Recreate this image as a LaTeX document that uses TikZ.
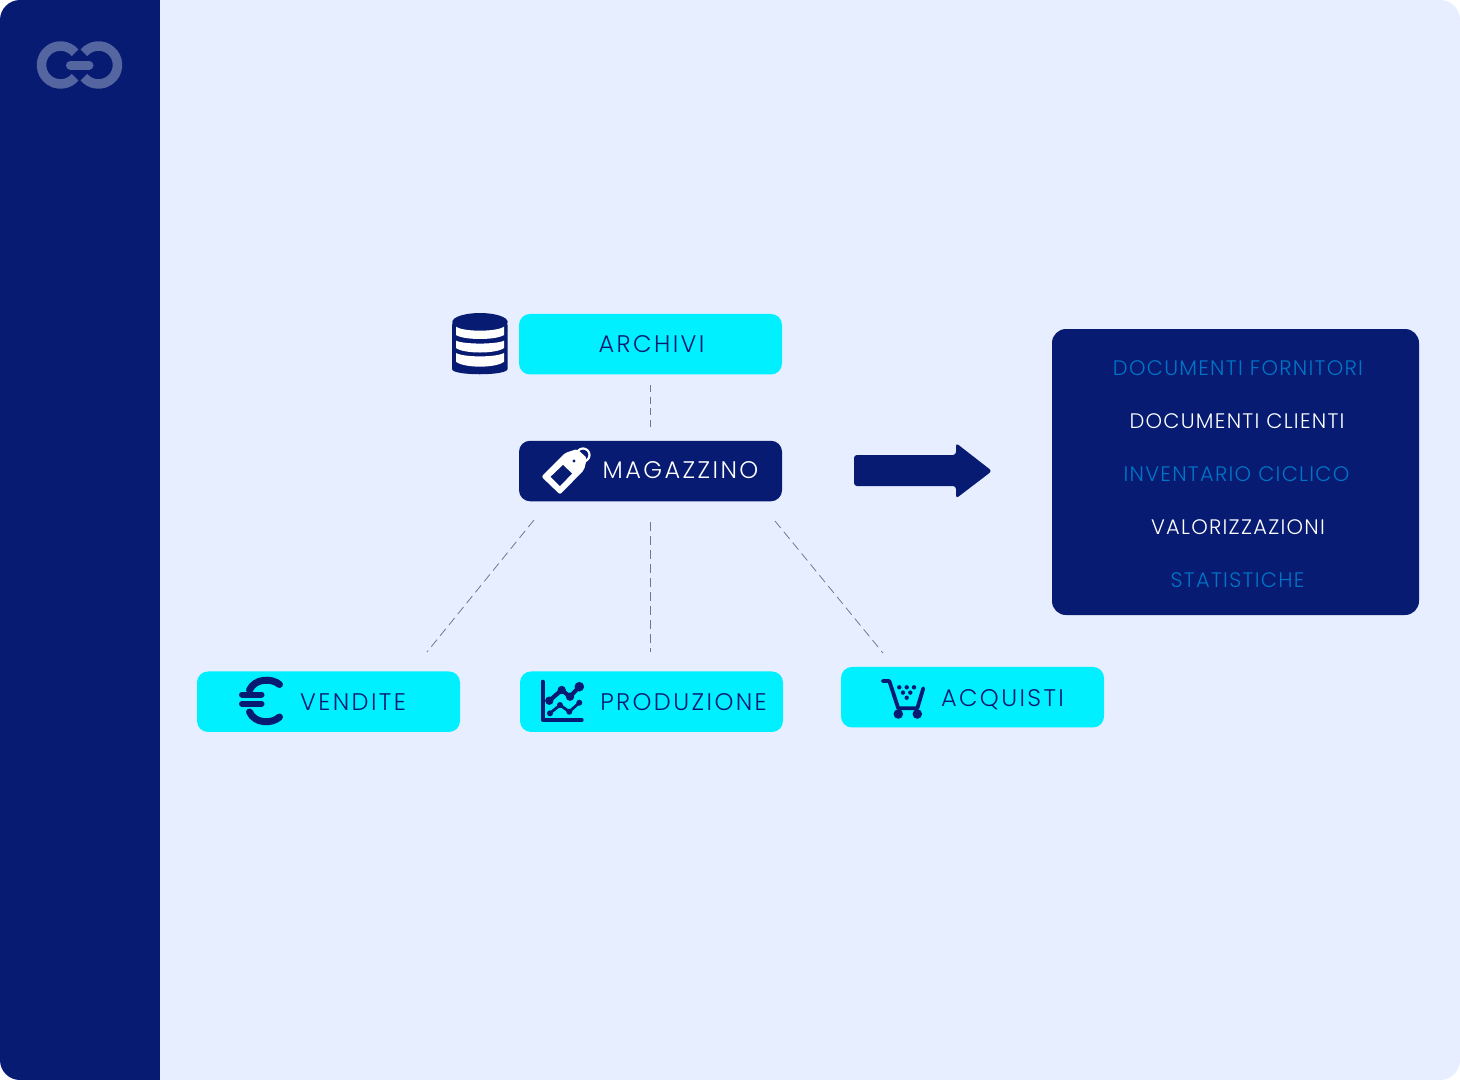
\documentclass[tikz,border=0pt]{standalone}
\usepackage{fontspec}
\newfontfamily\lblfont{Poppins Light}[LetterSpace=10]
\newfontfamily\docfont{Poppins Light}[LetterSpace=6]
\definecolor{navy}{HTML}{071B72}
\definecolor{cyanbox}{HTML}{00F0FF}
\definecolor{bgpanel}{HTML}{E7EEFF}
\definecolor{linkblue}{HTML}{0074C6}
\definecolor{logoc}{HTML}{5465A0}
\definecolor{dashc}{HTML}{6E7894}
\tikzset{
  boxc/.style={fill=cyanbox,rounded corners=11pt},
  boxn/.style={fill=navy,rounded corners=11pt},
  lbl/.style={anchor=base,inner sep=0pt,font=\lblfont\fontsize{24}{24}\selectfont,text=navy},
  doc/.style={anchor=base,inner sep=0pt,font=\docfont\fontsize{21}{21}\selectfont},
  conn/.style={draw=dashc,line width=0.8pt,dash pattern=on 9pt off 5pt},
  iconl/.style={draw=navy,line cap=round,line join=round}
}
\begin{document}
\begin{tikzpicture}[x=1pt,y=1pt,yscale=-1]
\useasboundingbox (0,0) rectangle (1460,1080);
\fill[white] (0,0) rectangle (1460,1080);
\begin{scope}
\clip[rounded corners=20pt] (0,0) rectangle (1460,1080);
\fill[bgpanel] (0,0) rectangle (1460,1080);
\fill[navy] (0,0) rectangle (160,1080);
\end{scope}
% logo
\draw[logoc,line width=9.5pt] (60.5,65) ++(-40:19pt) arc[start angle=-40,end angle=-320,radius=19pt];
\draw[logoc,line width=9.5pt] (98.5,65) ++(-140:19pt) arc[start angle=-140,end angle=140,radius=19pt];
\draw[logoc,line width=9pt,line cap=round] (70.5,65) -- (89,65);
% boxes
\node[boxc,minimum width=263pt,minimum height=60.5pt,inner sep=0pt] (archivi) at (650.5,344.2) {};
\node[boxn,minimum width=263pt,minimum height=60.5pt,inner sep=0pt] (magazzino) at (650.5,471) {};
\node[boxc,minimum width=263pt,minimum height=60.5pt,inner sep=0pt] (vendite) at (328.5,701.7) {};
\node[boxc,minimum width=263pt,minimum height=60.5pt,inner sep=0pt] (produzione) at (651.5,701.7) {};
\node[boxc,minimum width=263pt,minimum height=60.5pt,inner sep=0pt] (acquisti) at (972.5,697.2) {};
\node[boxn,rounded corners=14pt,minimum width=367pt,minimum height=286pt,inner sep=0pt] (docs) at (1235.5,472) {};
% labels
\node[lbl] (larch) at (651.5,352.5) {ARCHIVI};
\node[lbl,text=white] (lmag) at (680.5,478) {MAGAZZINO};
\node[lbl] (lven) at (353,710) {VENDITE};
\node[lbl] (lpro) at (683.5,710) {PRODUZIONE};
\node[lbl] (lacq) at (1002.5,706.5) {ACQUISTI};
\node[doc,text=linkblue] (d1) at (1238,375) {DOCUMENTI FORNITORI};
\node[doc,text=white] (d2) at (1237,428) {DOCUMENTI CLIENTI};
\node[doc,text=linkblue] (d3) at (1236.5,481) {INVENTARIO CICLICO};
\node[doc,text=white] (d4) at (1238,534) {VALORIZZAZIONI};
\node[doc,text=linkblue] (d5) at (1237.5,587) {STATISTICHE};
% connectors
\coordinate (a1) at (650.5,385);
\coordinate (m1) at (650.5,427);
\coordinate (m2) at (534,520);
\coordinate (v2) at (427,652);
\coordinate (m3) at (650.5,522);
\coordinate (p3) at (650.5,652);
\coordinate (m4) at (775,521);
\coordinate (q4) at (883,653);
\draw[conn,dash pattern=on 7pt off 4.67pt] (a1) -- (m1);
\draw[conn] (m2) -- (v2);
\draw[conn] (m3) -- (p3);
\draw[conn] (m4) -- (q4);
% arrow
\fill[navy,rounded corners=3pt] (854,455) -- (956,455) -- (956,443) -- (992,471) -- (956,498.5) -- (956,486) -- (854,486) -- cycle;
% database icon
\fill[navy,rounded corners=3pt] (452,322) -- (452,366) .. controls (452,376) and (507.5,376) .. (507.5,366) -- (507.5,322) -- cycle;
\fill[navy] (480,322) ellipse[x radius=27.7pt,y radius=9pt];
\fill[white] (456,326.7) .. controls (464,332) and (496,332) .. (504,326.7) -- (504,335) .. controls (496,340.3) and (464,340.3) .. (456,335) -- cycle;
\fill[white] (456,340.7) .. controls (464,344.5) and (496,344.5) .. (504,340.7) -- (504,348) .. controls (496,354) and (464,354) .. (456,348) -- cycle;
\fill[white] (456,353) .. controls (464,357.5) and (496,357.5) .. (504,353) -- (504,361.7) .. controls (496,368.3) and (464,368.3) .. (456,361.7) -- cycle;
% tag icon
\fill[white,rounded corners=2pt] (541.5,476.7) -- (560,494.5) -- (584,470) -- (587,458) -- (577,449) -- (565,453) -- cycle;
\fill[navy] (550.7,476.7) -- (560,486) -- (572,473.5) -- (563,465) -- cycle;
\draw[white,line width=2.2pt] (583,455) circle[radius=6.5pt];
\fill[navy] (574,461) circle[radius=1.6pt];
% euro icon
\draw[iconl,line width=7pt] (279.5,684.5) .. controls (272,678) and (255,678) .. (249.5,690);
\draw[iconl,line width=7pt] (249.5,712) .. controls (255,724) and (272,724) .. (279.5,717);
\draw[iconl,line width=6pt] (242,694.5) -- (261.5,694.5);
\draw[iconl,line width=6pt] (242,703.7) -- (261.5,703.7);
% chart icon
\draw[iconl,line width=4pt] (542.7,681.7) -- (542.7,720) -- (581.7,720);
\draw[iconl,line width=4.2pt] (549.3,700.7) -- (561.7,690) -- (570,696.7) -- (579.3,686.7);
\draw[iconl,line width=2.8pt] (550,713.3) -- (560,705) -- (569.3,711.7) -- (579.3,702.7);
\foreach \px/\py in {549.3/700.7,561.7/690,570/696.7}{\fill[navy] (\px,\py) circle[radius=4.2pt];}
\fill[navy] (579.3,686.7) circle[radius=4.8pt];
\foreach \px/\py in {550/713.3,560/705,569.3/711.7,579.3/702.7}{\fill[navy] (\px,\py) circle[radius=3pt];}
% cart icon
\draw[iconl,line width=3.8pt] (882.7,681) -- (889.3,681) -- (898.3,708.3) -- (917.3,708.3) -- (923.3,688.3);
\fill[navy] (898.3,714) circle[radius=4.8pt];
\fill[navy] (917.3,714) circle[radius=4.8pt];
\foreach \px/\py in {899.3/687.3,906.7/687.3,914/687.3,903/692.6,910.3/692.6,906.7/697.7}{\fill[navy] (\px,\py) circle[radius=2.2pt];}
\end{tikzpicture}
\end{document}
